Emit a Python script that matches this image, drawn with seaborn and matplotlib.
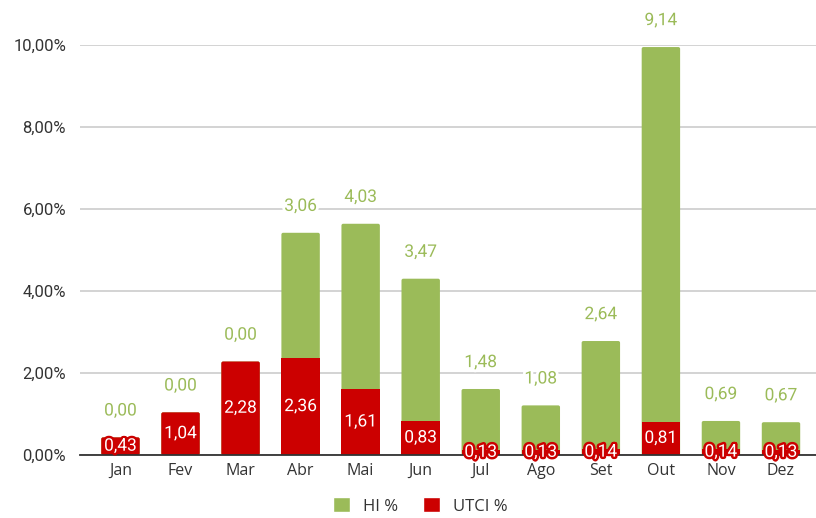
import matplotlib
matplotlib.use("Agg")
import matplotlib.pyplot as plt
import matplotlib.patheffects as pe
from matplotlib.patches import Patch, FancyBboxPatch
from matplotlib.ticker import FuncFormatter
import seaborn as sns
import pandas as pd
import numpy as np

meses = ["Jan", "Fev", "Mar", "Abr", "Mai", "Jun", "Jul", "Ago", "Set", "Out", "Nov", "Dez"]
utci = [0.43, 1.04, 2.28, 2.36, 1.61, 0.83, 0.13, 0.13, 0.14, 0.81, 0.14, 0.13]
hi = [0.00, 0.00, 0.00, 3.06, 4.03, 3.47, 1.48, 1.08, 2.64, 9.14, 0.69, 0.67]
y_ticks = [0, 2, 4, 6, 8, 10]

VERDE = "#9BBB59"
VERMELHO = "#CC0000"

sns.set_theme(style="white")
plt.rcParams["font.family"] = ["Roboto", "DejaVu Sans"]

df = pd.DataFrame({"mes": meses, "utci": utci, "hi": hi})
df["total"] = df["utci"] + df["hi"]

W, H = 816, 518
fig = plt.figure(figsize=(W / 100, H / 100), dpi=100)
ax = fig.add_axes([80 / W, (H - 455) / H, (W - 80) / W, 410 / H])

# stacked bars: total (HI on top) then UTCI drawn over the base
sns.barplot(data=df, x="mes", y="total", color=VERDE, width=0.64,
            saturation=1, linewidth=0, ax=ax, zorder=2)
n_total = len(ax.patches)
sns.barplot(data=df, x="mes", y="utci", color=VERMELHO, width=0.64,
            saturation=1, linewidth=0, ax=ax, zorder=3)

ax.set_xlim(-0.674, 11.583)
ax.set_ylim(0, 10)


def arredondar(rect, z):
    """Swap a bar rectangle for one with softly rounded corners."""
    x, y = rect.get_x(), rect.get_y()
    w, h = rect.get_width(), rect.get_height()
    r = 0.03
    box = FancyBboxPatch((x, y), w, h,
                         boxstyle=f"round,pad=0,rounding_size={r}",
                         mutation_aspect=1.45, facecolor=rect.get_facecolor(),
                         edgecolor="none", zorder=z)
    rect.set_visible(False)
    ax.add_patch(box)


bars = list(ax.patches)
for k, rect in enumerate(bars[:n_total]):
    arredondar(rect, 2)
for k, rect in enumerate(bars[n_total:]):
    if hi[k] == 0:
        arredondar(rect, 3)

ax.set_yticks(y_ticks)
ax.yaxis.set_major_formatter(FuncFormatter(lambda v, p: f"{v:.2f}%".replace(".", ",")))
ax.grid(axis="y", color="#CCCCCC", linewidth=1.2, zorder=0)
ax.set_axisbelow(True)
for s in ["top", "right", "left"]:
    ax.spines[s].set_visible(False)
ax.spines["bottom"].set_color("#333333")
ax.spines["bottom"].set_linewidth(1.3)
ax.spines["bottom"].set_zorder(4)
ax.set_xlabel("")
ax.set_ylabel("")
ax.tick_params(axis="y", length=0, pad=10, labelsize=12, labelcolor="#333333")
ax.tick_params(axis="x", length=0, pad=6, labelsize=11.5, labelcolor="#333333")
for t in ax.get_xticklabels():
    t.set_fontfamily(["Open Sans", "DejaVu Sans"])

# value labels
for i, row in df.iterrows():
    ax.annotate(f"{row['hi']:.2f}".replace(".", ","), xy=(i, row["total"]),
                xytext=(0, 19), textcoords="offset points", ha="center", va="center",
                fontsize=12.5, color=VERDE, zorder=5, annotation_clip=False,
                path_effects=[pe.withStroke(linewidth=4, foreground="white")])
    ax.text(i, row["utci"] / 2, f"{row['utci']:.2f}".replace(".", ","),
            ha="center", va="center", fontsize=12.5, color="white", zorder=6,
            path_effects=[pe.withStroke(linewidth=3.5, foreground=VERMELHO)])

handles = [Patch(facecolor=VERDE, label="HI %"), Patch(facecolor=VERMELHO, label="UTCI %")]
fig.legend(handles=handles, loc="center", bbox_to_anchor=(0.515, (H - 506) / H), ncol=2,
           frameon=False, handlelength=1.0, handleheight=1.0, handletextpad=0.8,
           columnspacing=1.5, prop={"family": "Open Sans", "size": 12},
           labelcolor="#333333")

fig.savefig("out.png", dpi=100)
